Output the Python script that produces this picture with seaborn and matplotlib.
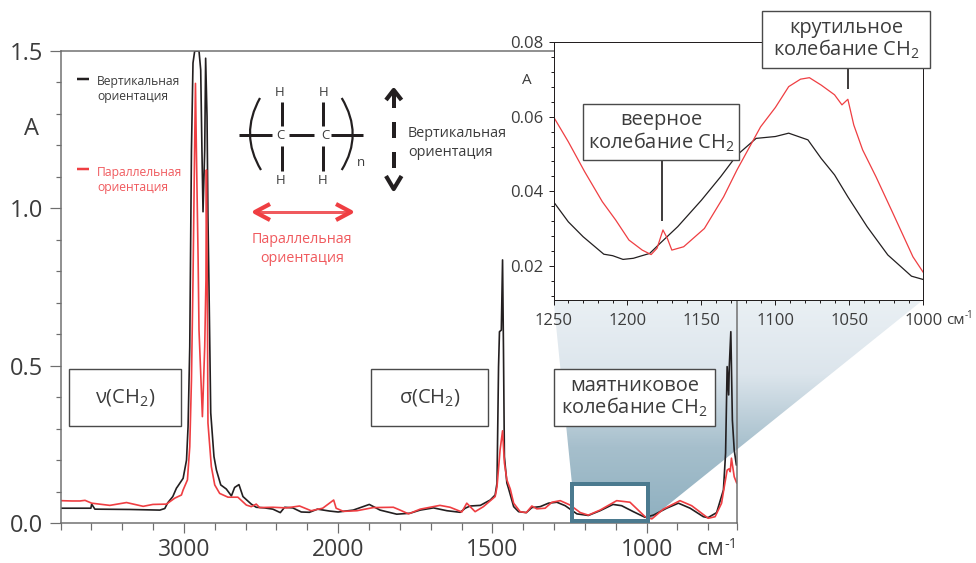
import numpy as np
import pandas as pd
import matplotlib
matplotlib.use("Agg")
import matplotlib.pyplot as plt
import seaborn as sns
from matplotlib.colors import LinearSegmentedColormap
from matplotlib.patches import Polygon, Rectangle, PathPatch
from matplotlib.path import Path
from matplotlib.ticker import FixedLocator, MultipleLocator, FormatStrFormatter

# ---------- data ----------
black_wave = [3800,3603,3598,3577,3350,3156,3124,3105,3072,3048,3042,3005,2983,2973,2962,2951,2941,2930,2902,2891,2883,2876,2865,2859,2850,2844,2837,2826,2805,2789,2761,2725,2692,2671,2643,2617,2563,2531,2477,2423,2375,2347,2294,2239,2186,2134,2056,2000,1951,1899,1864,1810,1767,1734,1691,1647,1604,1588,1572,1539,1507,1491,1485,1480,1477,1471,1467,1464,1461,1453,1448,1431,1415,1390,1372,1345,1318,1291,1264,1226,1189,1151,1109,1081,1043,1005,978,935,897,859,816,801,773,751,744,739,734,732,727,722,716,709]
black_abs = [0.047,0.047,0.060,0.044,0.043,0.041,0.046,0.064,0.084,0.111,0.115,0.142,0.200,0.306,0.560,1.185,1.462,1.500,1.500,1.440,1.185,0.989,1.185,1.477,1.291,0.973,0.740,0.350,0.211,0.168,0.121,0.108,0.086,0.113,0.122,0.084,0.060,0.050,0.048,0.044,0.033,0.050,0.048,0.035,0.034,0.044,0.038,0.035,0.041,0.059,0.041,0.028,0.031,0.041,0.048,0.039,0.034,0.047,0.054,0.056,0.073,0.089,0.127,0.497,0.608,0.613,0.836,0.550,0.211,0.127,0.111,0.052,0.036,0.033,0.049,0.052,0.063,0.066,0.055,0.029,0.024,0.039,0.059,0.055,0.036,0.018,0.025,0.047,0.063,0.047,0.020,0.017,0.033,0.105,0.222,0.497,0.407,0.497,0.608,0.327,0.232,0.184]
red_wave = [3800,3726,3674,3641,3598,3480,3372,3264,3201,3113,3059,3016,3005,2977,2962,2951,2941,2933,2925,2919,2908,2902,2880,2865,2857,2854,2848,2844,2822,2800,2768,2714,2650,2595,2563,2531,2509,2423,2336,2250,2175,2100,2029,2013,1983,1939,1886,1821,1799,1772,1734,1670,1637,1599,1583,1556,1529,1491,1485,1475,1467,1461,1453,1442,1431,1410,1390,1372,1356,1329,1307,1280,1248,1215,1189,1151,1097,1054,1005,983,946,892,854,800,778,757,750,739,733,729,725,716,708]
red_abs = [0.071,0.070,0.070,0.072,0.063,0.056,0.065,0.053,0.059,0.060,0.079,0.089,0.105,0.137,0.242,0.454,0.772,1.090,1.397,1.185,0.846,0.613,0.338,0.560,0.772,1.122,0.740,0.318,0.179,0.121,0.094,0.082,0.082,0.057,0.052,0.060,0.049,0.050,0.048,0.054,0.039,0.047,0.073,0.047,0.037,0.039,0.049,0.050,0.041,0.029,0.044,0.056,0.050,0.035,0.063,0.036,0.052,0.084,0.115,0.232,0.293,0.191,0.137,0.108,0.063,0.036,0.033,0.054,0.045,0.047,0.066,0.071,0.057,0.033,0.025,0.041,0.071,0.066,0.020,0.013,0.044,0.071,0.055,0.015,0.020,0.063,0.105,0.168,0.172,0.163,0.206,0.147,0.127]

inset_black_wave = [1250,1240,1230,1216,1210,1203,1196,1191,1185,1178,1166,1150,1137,1126,1113,1100,1091,1078,1069,1060,1051,1038,1024,1015,1008,1000]
inset_black_abs = [0.0372,0.0318,0.0278,0.0231,0.0227,0.0217,0.0220,0.0226,0.0233,0.0260,0.0305,0.0376,0.0439,0.0497,0.0542,0.0547,0.0556,0.0538,0.0488,0.0444,0.0385,0.0305,0.0229,0.0197,0.0172,0.0163]
inset_red_wave = [1250,1240,1229,1217,1208,1199,1190,1184,1180,1176,1173,1170,1162,1148,1135,1126,1110,1100,1091,1083,1077,1069,1060,1055,1051,1047,1041,1032,1021,1007,1000]
inset_red_abs = [0.0600,0.0533,0.0453,0.0372,0.0323,0.0269,0.0242,0.0230,0.0247,0.0296,0.0273,0.0242,0.0251,0.0300,0.0385,0.0457,0.0573,0.0625,0.0681,0.0701,0.0705,0.0685,0.0659,0.0632,0.0647,0.0578,0.0511,0.0439,0.0345,0.0224,0.0182]

main_x_major = [3000, 2000, 1500, 1000]
main_x_minor = [3800,3600,3400,3200,2800,2600,2400,2200,1900,1800,1700,1600,1400,1300,1200,1100,900,800,707]
main_y_major = [0.0, 0.5, 1.0, 1.5]
inset_x_major = [1250, 1200, 1150, 1100, 1050, 1000]
inset_y_major = [0.02, 0.04, 0.06, 0.08]

LABEL_V = "Вертикальная\nориентация"
LABEL_P = "Параллельная\nориентация"

# ---------- style ----------
sns.set_theme(style="ticks")
plt.rcParams['font.family'] = ['Open Sans', 'DejaVu Sans']
plt.rcParams['mathtext.default'] = 'regular'

W, H = 976, 563
BLACK = "#231F20"
RED = "#EF3E42"
TXT = "#3C3C3C"
GRAY = "#6E6E6E"
px = 0.72

fig = plt.figure(figsize=(W/100, H/100), dpi=100, facecolor="white")

def axes_px(l, t, r, b, **kw):
    return fig.add_axes([l/W, 1-b/H, (r-l)/W, (b-t)/H], **kw)

# background wedge
bg = axes_px(0, 0, W, H, zorder=0)
bg.set_xlim(0, W); bg.set_ylim(H, 0); bg.axis("off")
cmap = LinearSegmentedColormap.from_list("w", ["#EAF0F4", "#DCE5EC", "#A6BFCC", "#8FB0C0"])
grad = np.linspace(0, 1, 256).reshape(-1, 1)
im = bg.imshow(grad, cmap=cmap, extent=(553, 923, 521, 300), aspect="auto", interpolation="bilinear")
bg.set_xlim(0, W); bg.set_ylim(H, 0)
wedge = Polygon([(553.5, 300), (923, 300), (648, 521), (648, 484), (572, 484)],
                closed=True, transform=bg.transData, fc="none", ec="none")
bg.add_patch(wedge)
im.set_clip_path(wedge)

# main axes
def fwd(x):
    x = np.asarray(x, dtype=float)
    return np.where(x <= 2000, x, 2000 + (x - 2000) / 2)
def inv(s):
    s = np.asarray(s, dtype=float)
    return np.where(s <= 2000, s, 2000 + (s - 2000) * 2)

ax = axes_px(60.5, 51, 737, 523, zorder=1)
ax.patch.set_alpha(0)
main_df = pd.DataFrame({"w": black_wave, "a": black_abs})
main_df2 = pd.DataFrame({"w": red_wave, "a": red_abs})
sns.lineplot(data=main_df, x="w", y="a", color=BLACK, lw=1.2, sort=False, estimator=None, ax=ax, solid_joinstyle="round")
sns.lineplot(data=main_df2, x="w", y="a", color=RED, lw=1.2, sort=False, estimator=None, ax=ax, solid_joinstyle="round")
ax.set_xscale("function", functions=(fwd, inv))
ax.set_xlim(3800, 707)
ax.set_ylim(0, 1.5)
ax.set_xlabel(""); ax.set_ylabel("")
ax.xaxis.set_major_locator(FixedLocator(main_x_major))
ax.xaxis.set_minor_locator(FixedLocator(main_x_minor))
ax.xaxis.set_major_formatter(FormatStrFormatter("%d"))
ax.xaxis.set_minor_formatter(plt.NullFormatter())
ax.yaxis.set_major_locator(FixedLocator(main_y_major))
ax.yaxis.set_minor_locator(MultipleLocator(0.1))
ax.yaxis.set_major_formatter(FormatStrFormatter("%.1f"))
ax.tick_params(axis="x", which="major", length=10*px, width=1.2*px, color=GRAY, labelsize=16.5, labelcolor=TXT, pad=3.5)
ax.tick_params(axis="x", which="minor", length=7*px, width=1.2*px, color=GRAY)
ax.tick_params(axis="y", which="major", length=11*px, width=1.2*px, color=GRAY, labelsize=17, labelcolor=TXT, pad=4.5)
ax.tick_params(axis="y", which="minor", length=5*px, width=1.2*px, color=GRAY)
for s in ax.spines.values():
    s.set_color(GRAY); s.set_linewidth(1.5*px)

# inset
ins = axes_px(553.5, 42.3, 923.3, 300, zorder=2)
sns.lineplot(x=inset_black_wave, y=inset_black_abs, color=BLACK, lw=0.9, sort=False, estimator=None, ax=ins)
sns.lineplot(x=inset_red_wave, y=inset_red_abs, color=RED, lw=0.9, sort=False, estimator=None, ax=ins)
ins.set_xlim(1250, 1000)
ins.set_ylim(0.0108, 0.08)
ins.xaxis.set_major_locator(FixedLocator(inset_x_major))
ins.xaxis.set_minor_locator(MultipleLocator(10))
ins.yaxis.set_major_locator(FixedLocator(inset_y_major))
ins.yaxis.set_minor_locator(MultipleLocator(0.004))
ins.xaxis.set_major_formatter(FormatStrFormatter("%d"))
ins.yaxis.set_major_formatter(FormatStrFormatter("%.2f"))
ins.tick_params(axis="x", which="major", length=5*px, width=1*px, color=BLACK, labelsize=12, labelcolor=TXT, pad=6)
ins.tick_params(axis="y", which="major", length=5*px, width=1*px, color=BLACK, labelsize=12, labelcolor=TXT, pad=3.5)
ins.tick_params(axis="both", which="minor", length=3*px, width=1*px, color=BLACK)
for s in ins.spines.values():
    s.set_color(BLACK); s.set_linewidth(1*px)

# overlay annotations (pixel coordinates)
ov = axes_px(0, 0, W, H, zorder=3)
ov.set_xlim(0, W); ov.set_ylim(H, 0); ov.axis("off"); ov.patch.set_alpha(0)

def T(x, y, s, size, color=TXT, ha="center", va="center", **kw):
    return ov.text(x, y, s, fontsize=size, color=color, ha=ha, va=va, **kw)
def L(xs, ys, color=BLACK, lw=3, **kw):
    ov.plot(xs, ys, color=color, lw=lw*px, solid_capstyle=kw.pop("cap", "butt"), **kw)

T(31, 129, "A", 17)
T(696.5, 549, "см", 16.5, ha="left")
T(724, 545, "-1", 10.5, ha="left")
T(527, 81, "A", 11)
T(946, 320, "см", 11, ha="left")
T(965, 315, "-1", 7, ha="left")

# selection rectangle
ov.add_patch(Rectangle((572, 484), 76, 37, fc="none", ec="#4B7A8F", lw=4*px, joinstyle="miter"))

# boxes
def box(l, t, r, b, s, size=14.4, linespacing=1.0):
    ov.add_patch(Rectangle((l, t), r-l, b-t, fc="white", ec="#4A4A4A", lw=1.4*px, zorder=4))
    T((l+r)/2, (t+b)/2, s, size, zorder=5, linespacing=linespacing)

box(68.7, 369, 181, 425.5, "ν(CH$_2$)", 14.5)
box(371, 369, 488, 425.5, "σ(CH$_2$)", 14.5)
box(554, 369, 715.3, 425.7, "маятниковое\nколебание CH$_2$")
box(583.3, 103.7, 739.3, 160, "веерное\nколебание CH$_2$")
box(761.7, 11.3, 930.3, 67.7, "крутильное\nколебание CH$_2$")
L([662, 662], [160, 220.7], lw=1.7)
L([848, 848], [68, 89], lw=1.7)

# legend
L([77, 89], [79.3, 79.3], lw=2.5)
T(97, 89, LABEL_V, 8.7, ha="left", linespacing=1.25)
L([77, 89], [169.3, 169.3], color=RED, lw=2.5)
T(97, 180, LABEL_P, 8.7, color="#F05A5E", ha="left", linespacing=1.25)

# polymer diagram
for xs in ([239, 272], [289, 314], [331, 363]):
    L(xs, [135.3, 135.3], lw=3)
for x in (281.7, 323.3):
    L([x, x], [101.7, 126], lw=3)
    L([x, x], [146, 170.7], lw=3)
T(280, 135.5, "C", 9.5); T(325, 135.5, "C", 9.5)
for x, y in ((280, 92.7), (323.7, 92.7), (280.5, 180), (322.7, 180)):
    T(x, y, "H", 9.5)
T(360.7, 163, "n", 9.5)
for p0, c, p1 in (((260, 98), (239.5, 134.5), (261, 170)), ((341.7, 98), (363.7, 134.5), (341.7, 170))):
    ov.add_patch(PathPatch(Path([p0, c, p1], [Path.MOVETO, Path.CURVE3, Path.CURVE3]),
                           fc="none", ec=BLACK, lw=2.2*px))

# vertical arrow
L([393.7, 393.7], [92, 108], lw=4)
L([386, 393.7, 401.5], [100, 90, 100], lw=4.2)
L([393.7, 393.7], [121.7, 138], lw=4)
L([393.7, 393.7], [151.7, 168], lw=4)
L([386, 393.7, 401.5], [176, 189, 176], lw=4.2)
T(408, 143, LABEL_V, 10.4, ha="left", linespacing=1.28)

# horizontal red arrow
L([256, 350], [212, 212], color="#F05A5E", lw=3)
L([270, 255, 270], [204, 212, 220], color=RED, lw=4.2)
L([336, 351, 336], [204, 212, 220], color=RED, lw=4.2)
T(302, 249, LABEL_P, 10.3, color="#F05A5E", linespacing=1.28)

fig.savefig("out.png", dpi=100, facecolor="white")
